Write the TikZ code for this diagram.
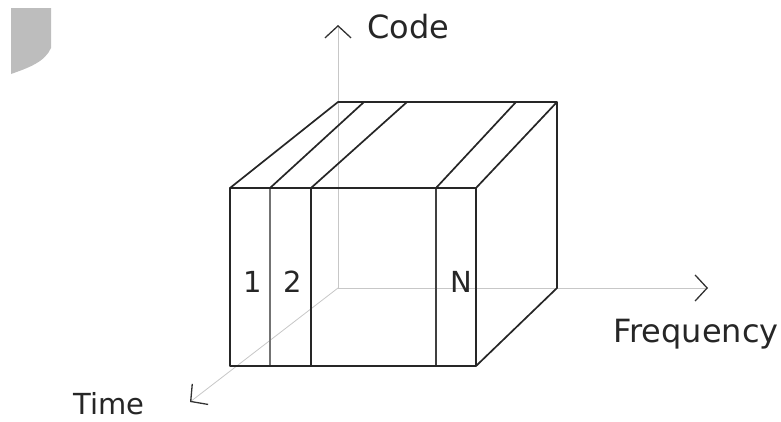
\documentclass[tikz,border=0pt]{standalone}
\usepackage{fontspec}
\setmainfont{DejaVu Sans}
\usetikzlibrary{arrows.meta}
\tikzset{
  axisline/.style={line width=0.8pt, black!22, -{Straight Barb[length=12pt, width=26pt, line width=1.3pt, color=black!80]}},
  cubeedge/.style={line width=1.7pt, black!85, line join=round},
  thinslice/.style={line width=1.1pt, black!55},
  axislabel/.style={font=\fontsize{32}{38}\selectfont, anchor=base west, inner sep=0pt, text=black!85},
  slicelabel/.style={font=\fontsize{29}{34}\selectfont, anchor=base, inner sep=0pt, text=black!85}
}
\begin{document}
\begin{tikzpicture}[x=1pt, y=-1pt]
  \useasboundingbox (0,0) rectangle (781,421);
  % gray corner mark
  \fill[black!26] (11,8) -- (51,8) -- (51,48) .. controls (45,62) and (28,68) .. (11,74) -- cycle;
  % axes
  \coordinate (o) at (338,288);
  \coordinate (codeend) at (338,25);
  \coordinate (freqend) at (708,288);
  \coordinate (timeend) at (190,402);
  \draw[axisline] (o) -- (codeend);
  \draw[axisline] (o) -- (freqend);
  \draw[axisline] (o) -- (timeend);
  \node[axislabel] (code) at (367,38) {Code};
  \node[axislabel] (freq) at (613,342) {Frequency};
  \node[axislabel, font=\fontsize{29}{34}\selectfont] (time) at (73,414) {Time};
  % cube corners
  \coordinate (ftl) at (230,188);
  \coordinate (ftr) at (476,188);
  \coordinate (fbl) at (230,366);
  \coordinate (fbr) at (476,366);
  \coordinate (btl) at (338,102);
  \coordinate (btr) at (557,102);
  \coordinate (bbr) at (557,288);
  % slice borders, front and back
  \coordinate (fa) at (270,188);
  \coordinate (fb) at (311,188);
  \coordinate (fc) at (436,188);
  \coordinate (ba) at (364,102);
  \coordinate (bb) at (407,102);
  \coordinate (bc) at (516,102);
  \draw[thinslice] (fa) -- (270,366);
  \draw[cubeedge] (fb) -- (311,366);
  \draw[thinslice, black!75] (fc) -- (436,366);
  \draw[cubeedge] (fa) -- (ba);
  \draw[cubeedge] (fb) -- (bb);
  \draw[cubeedge] (fc) -- (bc);
  \draw[cubeedge] (ftl) -- (ftr) -- (fbr) -- (fbl) -- cycle;
  \draw[cubeedge] (ftl) -- (btl) -- (btr) -- (bbr) -- (fbr);
  \draw[cubeedge] (btr) -- (ftr);
  \node[slicelabel] (s1) at (253,292) {1};
  \node[slicelabel] (s2) at (293,292) {2};
  \node[slicelabel] (sn) at (461,292) {N};
\end{tikzpicture}
\end{document}
